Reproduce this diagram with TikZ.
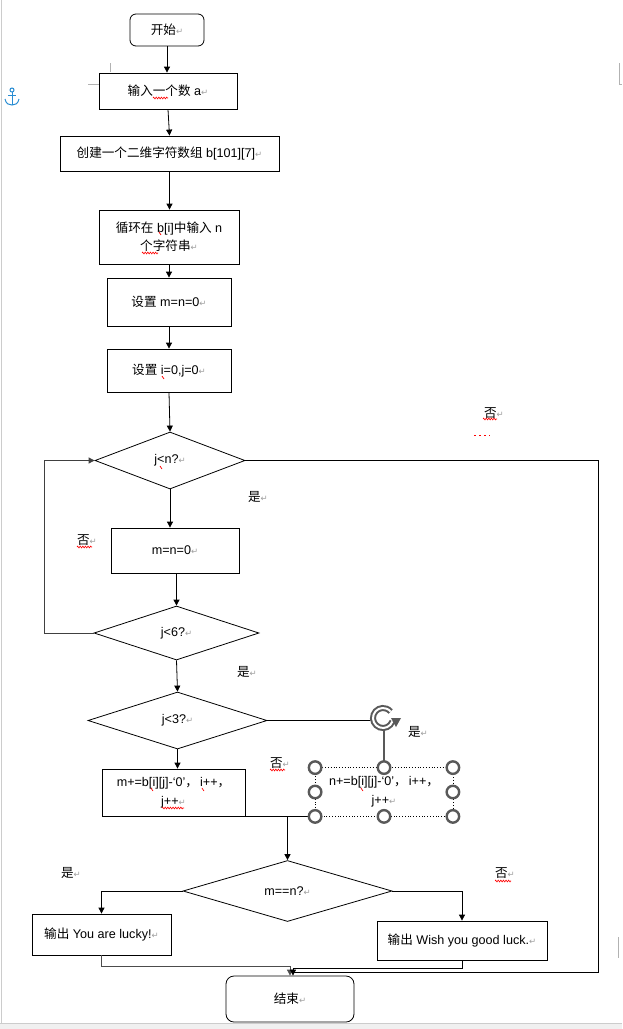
\documentclass[tikz,border=0pt]{standalone}
\usepackage{fontspec}
\setmainfont{Liberation Sans}
\newfontfamily\zh{Noto Sans CJK SC}
\newfontfamily\symf{DejaVu Sans}
\usetikzlibrary{shapes.geometric,arrows.meta,decorations.pathmorphing}
\newcommand\ret{{\symf\fontsize{8.5}{8.5}\selectfont\textcolor{gray!75}{↵}}}
\begin{document}
\begin{tikzpicture}[x=1pt,y=-1pt,font=\fontsize{12.6}{18}\selectfont,
  box/.style={draw,line width=0.8pt,inner sep=0pt,align=center},
  dia/.style={draw,diamond,aspect=2.6,inner sep=0pt,line width=0.8pt},
  arr/.style={-{Triangle[length=6pt,width=6pt]},line width=0.8pt},
  conn/.style={line width=0.8pt},
  lbl/.style={inner sep=0pt},
  handle/.style={draw=gray!70!black,line width=2.4pt,fill=white,circle,minimum size=12.5pt,inner sep=0pt},
  squig/.style={red,line width=0.6pt,decorate,decoration={zigzag,amplitude=0.9pt,segment length=2.6pt}},
  tick/.style={red,line width=0.7pt},
  crop/.style={gray!60,line width=0.6pt}]
\useasboundingbox (0,0) rectangle (622,1029);
\fill[white] (0,0) rectangle (622,1029);
% page edges
\fill[gray!12] (0,1023) rectangle (622,1029);
\draw[gray!40,line width=0.8pt] (0,1023) -- (622,1023);
\draw[gray!40,line width=1pt] (1,0) -- (1,1023);
% crop marks
\draw[crop] (110,63) -- (110,72);
\draw[crop] (88,84) -- (99,84);
\draw[crop] (619,63) -- (619,84) -- (622,84);
\draw[crop] (618,937) -- (618,958);
% anchor icon
\begin{scope}[draw={rgb,255:red,40;green,140;blue,210},line width=1pt]
\draw (12,90) circle (2);
\draw (12,92) -- (12,105);
\draw (8,95) -- (16,95);
\draw (5,99) .. controls (6,104) and (9,105) .. (12,105) .. controls (15,105) and (18,104) .. (19,99);
\end{scope}

% nodes
\node[box,rounded corners=6pt,minimum width=74pt,minimum height=32pt] (start) at (167,30) {{\zh 开始}\ret};
\node[box,minimum width=138pt,minimum height=36pt] (inp) at (168,91) {{\zh 输入一个数} a\ret};
\node[box,minimum width=219pt,minimum height=35pt] (create) at (169.5,153.5) {{\zh 创建一个二维字符数组} b[101][7]\ret};
\node[box,minimum width=140pt,minimum height=54pt] (loop) at (169,237) {{\zh 循环在} b[i]{\zh 中输入} n\\{\zh 个字符串}\ret};
\node[box,minimum width=124pt,minimum height=48pt] (setmn) at (169,302) {{\zh 设置} m=n=0\ret};
\node[box,minimum width=124pt,minimum height=43pt] (setij) at (169,370.5) {{\zh 设置} i=0,j=0\ret};
\node[dia,minimum width=150pt,minimum height=57pt] (d1) at (170,460.5) {j<n?\ret};
\node[box,minimum width=128pt,minimum height=45pt] (mn0) at (175,550.5) {m=n=0\ret};
\node[dia,minimum width=165pt,minimum height=54pt] (d2) at (176.5,633) {j<6?\ret};
\node[dia,minimum width=179pt,minimum height=57pt] (d3) at (177.5,720.5) {j<3?\ret};
\node[box,minimum width=143pt,minimum height=47pt,font=\fontsize{12.6}{19}\selectfont] (mbox) at (173.5,792.5) {m+=b[i][j]-‘0’{\zh ，}\,i++{\zh ，}\\j++\ret};
\node[box,draw=none,minimum width=137pt,minimum height=48pt,font=\fontsize{12.6}{19}\selectfont] (nbox) at (384,792) {n+=b[i][j]-‘0’{\zh ，}\,i++{\zh ，}\\j++\ret};
\node[dia,minimum width=209pt,minimum height=61pt] (d4) at (287.5,891) {m==n?\ret};
\node[box,minimum width=139pt,minimum height=41pt] (lucky) at (101.5,934.5) {{\zh 输出} You are lucky!\ret};
\node[box,minimum width=170pt,minimum height=39pt] (wish) at (462,940.5) {{\zh 输出} Wish you good luck.\ret};
\node[box,rounded corners=8pt,minimum width=128pt,minimum height=46pt] (end) at (290,999) {{\zh 结束}\ret};

% labels
\node[lbl] (no1) at (494,413) {{\zh 否}\ret};
\node[lbl] (yes1) at (258,497) {{\zh 是}\ret};
\node[lbl] (no2) at (87,540) {{\zh 否}\ret};
\node[lbl] (yes2) at (247,672) {{\zh 是}\ret};
\node[lbl] (yes3) at (418,732) {{\zh 是}\ret};
\node[lbl] (no3) at (280,763) {{\zh 否}\ret};
\node[lbl] (yes4) at (71,873) {{\zh 是}\ret};
\node[lbl] (no4) at (505,873) {{\zh 否}\ret};

% connectors
\draw[arr] (start.south) -- (start.south |- inp.north);
\draw[arr] (inp.south) -- (create.north);
\draw[arr] (create.south) -- (create.south |- loop.north);
\draw[arr] (loop.south) -- (setmn.north);
\draw[arr] (setmn.south) -- (setij.north);
\draw[arr] (setij.south) -- (d1.north);
\draw[arr] (d1.south) -- (d1.south |- mn0.north);
\draw[arr] (d2.north |- mn0.south) -- (d2.north);
\draw[arr] (d2.south) -- (d3.north);
\draw[arr] (d3.south) -- (d3.south |- mbox.north);
\draw[arr,draw=black!75] (d2.west) -- ++(-49,0) |- (d1.west);
\draw[conn] (d1.east) -| (598,972) -- (294,972);
\draw[conn] (d3.east) -| (nbox.north);
\draw[conn] (mbox.south east) -- (nbox.south west);
\draw[arr,line width=1.3pt] (d4.north |- mbox.south) -- (d4.north);
\draw[arr] (d4.west) -| (lucky.north);
\draw[arr] (d4.east) -| (wish.north);
\draw[arr,draw=black!70] (lucky.south) -- ++(0,11) -| (end.north);
\draw[arr] (wish.south) -- ++(0,8) -| ([xshift=3pt]end.north);

% selection frame of right box
\draw[dotted,line width=0.8pt] (nbox.south west) rectangle (nbox.north east);
\draw[gray!70!black,line width=2pt] (384,730) -- (384,762);
\node[handle] (h1) at (nbox.north west) {};
\node[handle] (h2) at (nbox.north) {};
\node[handle] (h3) at (nbox.north east) {};
\node[handle] (h4) at (nbox.west) {};
\node[handle] (h5) at (nbox.east) {};
\node[handle] (h6) at (nbox.south west) {};
\node[handle] (h7) at (nbox.south) {};
\node[handle] (h8) at (nbox.south east) {};
% rotation handle
\fill[white] (383,718) circle (13);
\draw[gray!70!black,line width=6pt] (383,718) ++(20:10) arc (20:320:10);
\draw[white,line width=2pt] (383,718) ++(20:10) arc (20:320:10);
\fill[gray!70!black] (391,718) -- (401,718) -- (396,727) -- cycle;

% spelling marks
\draw[squig] (153,98) -- (168,98);
\draw[squig] (142,253) -- (158,253);
\draw[tick] (159,232) -- (161,235);
\draw[tick] (162,376) -- (164,379);
\draw[tick] (160,466) -- (162,469);
\draw[squig] (77,547) -- (92,547);
\draw[squig] (270,770) -- (285,770);
\draw[tick] (151,788) -- (153,791);
\draw[tick] (202,788) -- (204,791);
\draw[squig] (162,808) -- (184,808);
\draw[tick] (361,788) -- (363,791);
\draw[squig] (483,419) -- (497,419);
\draw[red,line width=0.7pt,dash pattern=on 2pt off 3pt] (474,435) -- (490,435);
\draw[squig] (495,881) -- (511,881);
\end{tikzpicture}
\end{document}
